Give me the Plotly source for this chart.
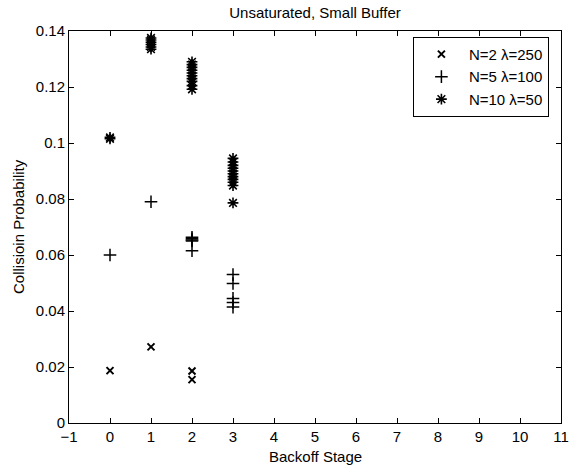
import plotly.graph_objects as go

# Data
stage_n2 = [0, 1, 2, 2]
prob_n2 = [0.0187, 0.0272, 0.0186, 0.0155]

stage_n5 = [0, 1, 2, 2, 2, 2, 2, 3, 3, 3, 3, 3]
prob_n5 = [0.0600, 0.0790, 0.0663, 0.0658, 0.0654, 0.0650, 0.0615,
           0.0530, 0.0498, 0.0445, 0.0430, 0.0414]

stage_n10 = [0, 0,
             1, 1, 1, 1, 1, 1,
             2, 2, 2, 2, 2, 2, 2, 2, 2, 2,
             3, 3, 3, 3, 3, 3, 3, 3, 3, 3, 3]
prob_n10 = [0.1015, 0.1020,
            0.1375, 0.1368, 0.1360, 0.1352, 0.1343, 0.1335,
            0.1290, 0.1280, 0.1270, 0.1260, 0.1250, 0.1240, 0.1230, 0.1220, 0.1205, 0.1192,
            0.0945, 0.0932, 0.0920, 0.0910, 0.0900, 0.0890, 0.0880, 0.0870, 0.0860, 0.0848, 0.0786]

series_names = ["N=2 λ=250", "N=5 λ=100", "N=10 λ=50"]
x_title = "Backoff Stage"
y_title = "Collisioin Probability"

x_ticks = list(range(-1, 12))
x_tick_labels = [("−" + str(-v)) if v < 0 else str(v) for v in x_ticks]
y_ticks = [0, 0.02, 0.04, 0.06, 0.08, 0.1, 0.12, 0.14]
y_tick_labels = ["0", "0.02", "0.04", "0.06", "0.08", "0.1", "0.12", "0.14"]

fig = go.Figure()
fig.add_trace(go.Scatter(x=stage_n2, y=prob_n2, mode="markers", name=series_names[0],
                         marker=dict(symbol="x-thin-open", size=7, color="black",
                                     line=dict(color="black", width=2))))
fig.add_trace(go.Scatter(x=stage_n5, y=prob_n5, mode="markers", name=series_names[1],
                         marker=dict(symbol="cross-thin-open", size=9, color="black",
                                     line=dict(color="black", width=1.5))))
fig.add_trace(go.Scatter(x=stage_n10, y=prob_n10, mode="markers", name=series_names[2],
                         marker=dict(symbol="asterisk-open", size=9, color="black",
                                     line=dict(color="black", width=1.6))))

axis_common = dict(showline=True, linecolor="black", linewidth=1, mirror="allticks",
                   ticks="inside", ticklen=5, tickcolor="black", showgrid=False,
                   zeroline=False, automargin=False, tickfont=dict(size=15, color="black"))

fig.update_layout(
    width=575, height=466,
    margin=dict(l=69, r=14, t=31, b=43),
    paper_bgcolor="white", plot_bgcolor="white",
    font=dict(family="Liberation Sans, Arial, sans-serif", size=15, color="black"),
    title=dict(text="Unsaturated, Small Buffer", xref="paper", x=0.5, xanchor="center",
               yref="container", y=0.972, yanchor="middle", font=dict(size=15)),
    xaxis=dict(range=[-1, 11], tickvals=x_ticks, ticktext=x_tick_labels, **axis_common),
    yaxis=dict(range=[0, 0.14], tickvals=y_ticks, ticktext=y_tick_labels, **axis_common),
    legend=dict(x=0.699, y=0.985, xanchor="left", yanchor="top",
                bordercolor="black", borderwidth=1, bgcolor="white",
                font=dict(size=15), itemwidth=45, tracegroupgap=0),
    annotations=[
        dict(text=x_title, xref="paper", yref="paper", x=0.5, y=0,
             xanchor="center", yanchor="middle", yshift=-33, showarrow=False,
             font=dict(size=15, color="black")),
        dict(text=y_title, xref="paper", yref="paper", x=0, y=0.5,
             xanchor="center", yanchor="middle", xshift=-51, textangle=-90,
             showarrow=False, font=dict(size=15, color="black")),
    ],
)

fig.write_html("out.html", config={"displayModeBar": False},
               post_script="document.body.style.margin='0px';")
